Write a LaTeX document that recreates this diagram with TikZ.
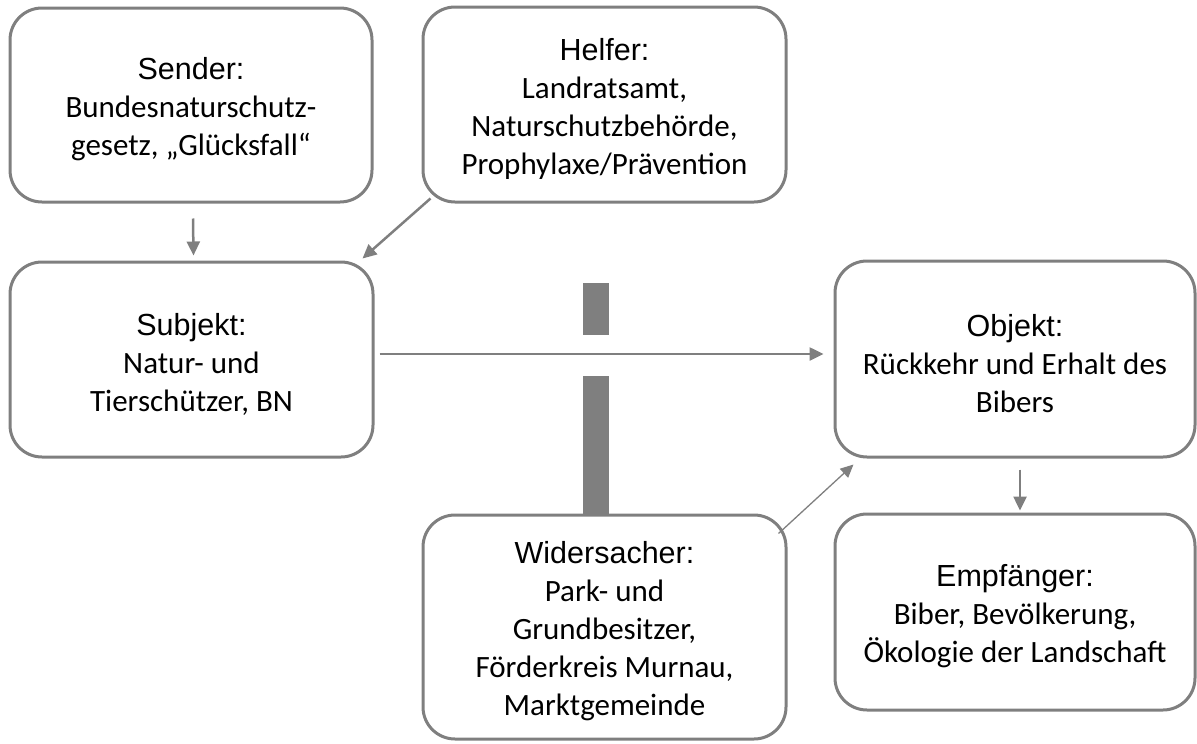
\documentclass[tikz,border=0pt]{standalone}
\usepackage{fontspec}
\setmainfont{Carlito}
\newfontfamily\titlefont{Liberation Sans}
\usetikzlibrary{arrows.meta}

\definecolor{linegrey}{RGB}{127,127,127}

\tikzset{
  actant/.style={draw=linegrey, line width=3pt, rounded corners=32pt,
    align=center, inner sep=0pt, text=black,
    font=\fontsize{31}{38}\selectfont},
  link/.style={draw=linegrey, line width=2.5pt,
    -{Triangle[length=14pt,width=13pt]}},
  thinlink/.style={draw=linegrey, line width=1.3pt,
    -{Triangle[length=13pt,width=12pt]}}
}
% heading line of a box; the strut lowers the whole text block a little
\newcommand{\hd}[1]{{\rule{0pt}{31pt}\titlefont\fontsize{30.5}{38}\selectfont #1}}

\begin{document}
\begin{tikzpicture}[x=1pt,y=-1pt]
  \useasboundingbox (0,0) rectangle (1197,744);

  % actant boxes
  \node[actant, minimum width=362pt, minimum height=194pt] (sender) at (191,105)
    {\hd{Sender:}\\Bundesnaturschutz-\\gesetz, „Glücksfall“};
  \node[actant, minimum width=363pt, minimum height=195pt] (helfer) at (604.5,104.5)
    {\hd{Helfer:}\\Landratsamt,\\Naturschutzbehörde,\\Prophylaxe/Prävention};
  \node[actant, minimum width=363pt, minimum height=195pt] (subjekt) at (191.5,359.5)
    {\hd{Subjekt:}\\Natur- und\\Tierschützer, BN};
  \node[actant, minimum width=360pt, minimum height=196pt] (objekt) at (1015,359)
    {\hd{Objekt:}\\Rückkehr und Erhalt des\\Bibers};
  \node[actant, minimum width=360pt, minimum height=196pt] (empf) at (1015,612)
    {\hd{Empfänger:}\\Biber, Bevölkerung,\\Ökologie der Landschaft};
  \node[actant, minimum width=363pt, minimum height=224pt] (wider) at (604.5,627)
    {\hd{Widersacher:}\\Park- und\\Grundbesitzer,\\Förderkreis Murnau,\\Marktgemeinde};

  % barrier between subject and object
  \fill[linegrey] (583,283) rectangle (609,335);
  \fill[linegrey] (583,376) rectangle (609,515);

  % connectors
  \draw[link] ([shift={(2,15)}]sender.south) -- ([shift={(2,-5)}]subjekt.north);
  \draw[link] ([shift={(9,-5)}]helfer.south west) -- ([shift={(-12,-2)}]subjekt.north east);
  \draw[link] ([shift={(5,-5.5)}]subjekt.east) -- ([shift={(-10,-5)}]objekt.west);
  \draw[thinlink] ([shift={(-9,20)}]wider.north east) -- ([shift={(20,6)}]objekt.south west);
  \draw[link] ([shift={(5,11)}]objekt.south) -- ([shift={(5,-2)}]empf.north);
\end{tikzpicture}
\end{document}
